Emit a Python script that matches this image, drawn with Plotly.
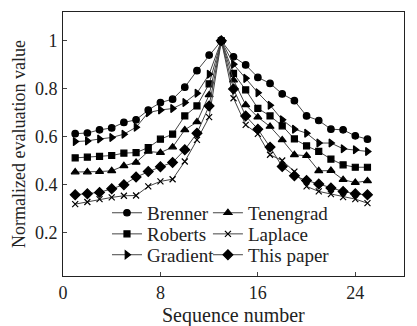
import plotly.graph_objects as go

seq = list(range(1, 26))

brenner = [0.612, 0.615, 0.628, 0.636, 0.659, 0.670, 0.711, 0.742, 0.756, 0.806, 0.875, 0.940, 1.0,
           0.933, 0.899, 0.847, 0.822, 0.778, 0.750, 0.686, 0.667, 0.631, 0.628, 0.603, 0.589]
gradient = [0.579, 0.582, 0.590, 0.596, 0.610, 0.639, 0.700, 0.711, 0.717, 0.742, 0.781, 0.860, 1.0,
            0.902, 0.843, 0.783, 0.731, 0.670, 0.631, 0.614, 0.573, 0.573, 0.549, 0.545, 0.538]
roberts = [0.511, 0.514, 0.517, 0.521, 0.531, 0.533, 0.554, 0.589, 0.610, 0.686, 0.728, 0.820, 1.0,
           0.864, 0.795, 0.718, 0.686, 0.645, 0.590, 0.561, 0.538, 0.506, 0.482, 0.472, 0.472]
tenengrad = [0.452, 0.452, 0.454, 0.457, 0.478, 0.492, 0.538, 0.533, 0.556, 0.628, 0.661, 0.774, 1.0,
             0.836, 0.732, 0.681, 0.642, 0.586, 0.524, 0.520, 0.457, 0.458, 0.420, 0.408, 0.415]
this_paper = [0.357, 0.361, 0.367, 0.382, 0.399, 0.431, 0.454, 0.474, 0.492, 0.545, 0.614, 0.728, 1.0,
              0.799, 0.686, 0.631, 0.556, 0.475, 0.436, 0.417, 0.402, 0.385, 0.371, 0.361, 0.357]
laplace = [0.318, 0.327, 0.339, 0.346, 0.353, 0.354, 0.392, 0.413, 0.422, 0.496, 0.586, 0.681, 1.0,
           0.760, 0.649, 0.611, 0.524, 0.500, 0.454, 0.392, 0.371, 0.360, 0.347, 0.339, 0.322]

x_ticks = [0, 8, 16, 24]
y_ticks = [0.2, 0.4, 0.6, 0.8, 1.0]
y_tick_labels = ["0.2", "0.4", "0.6", "0.8", "1"]

# (name, values, marker symbol, marker size)
series = [
    ("Brenner", brenner, "circle", 6.5),
    ("Roberts", roberts, "square", 6),
    ("Gradient", gradient, "triangle-right", 7),
    ("Tenengrad", tenengrad, "triangle-up", 7),
    ("Laplace", laplace, "x-thin-open", 6),
    ("This paper", this_paper, "diamond", 7.5),
]

# each legend entry gets its own box so the 2x3 grid spacing can be set exactly
legend_cols = [0.129, 0.129, 0.129, 0.425, 0.425, 0.425]
legend_rows = [0.239, 0.159, 0.080, 0.239, 0.159, 0.080]

SERIF = "Liberation Serif, Times New Roman, serif"

fig = go.Figure()
layout_legends = {}
for i, (name, vals, sym, size) in enumerate(series):
    key = "legend" if i == 0 else f"legend{i + 1}"
    fig.add_trace(go.Scatter(
        x=seq, y=vals, name=name, mode="lines+markers", legend=key,
        line=dict(color="#444444", width=1),
        marker=dict(symbol=sym, size=size, color="black",
                    line=dict(color="black", width=1.2)),
    ))
    layout_legends[key] = dict(
        x=legend_cols[i], y=legend_rows[i], xanchor="left", yanchor="middle",
        orientation="v", itemwidth=30, bgcolor="rgba(0,0,0,0)",
        font=dict(family=SERIF, size=19, color="#222222"),
    )

fig.update_layout(
    width=417, height=326,
    margin=dict(l=63, r=13, t=12, b=50, autoexpand=False),
    paper_bgcolor="white", plot_bgcolor="white",
    font=dict(family=SERIF, size=18, color="#222222"),
    showlegend=True,
    **layout_legends,
    xaxis=dict(
        range=[0, 28], tickvals=x_ticks, ticks="inside", ticklen=4,
        showline=True, linecolor="#222222", linewidth=1, mirror=True,
        showgrid=False, zeroline=False, ticklabelstandoff=0,
        tickfont=dict(size=18),
    ),
    yaxis=dict(
        range=[0.018, 1.12], tickvals=y_ticks, ticktext=y_tick_labels,
        ticks="inside", ticklen=4,
        showline=True, linecolor="#222222", linewidth=1, mirror=True,
        showgrid=False, zeroline=False, ticklabelstandoff=1,
        tickfont=dict(size=18),
        title=dict(text="Normalized evaluation value", standoff=4, font=dict(size=18)),
    ),
    annotations=[dict(
        text="Sequence number", xref="paper", yref="paper",
        x=0.5, y=-0.148, xanchor="center", yanchor="middle",
        showarrow=False, font=dict(family=SERIF, size=20, color="#222222"),
    )],
)

fig.write_html("out.html")
